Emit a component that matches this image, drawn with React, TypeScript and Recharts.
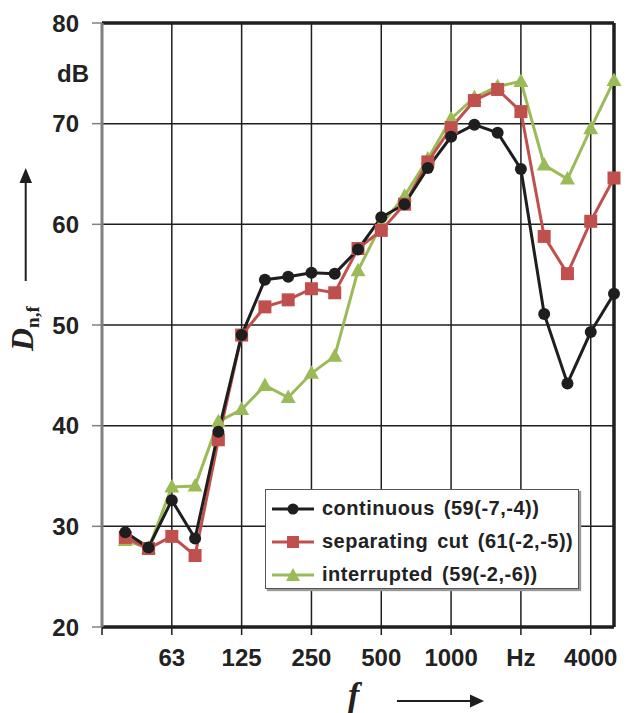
import { LineChart, Line, XAxis, YAxis, CartesianGrid, ReferenceLine } from 'recharts';

// third-octave bands, index 0 = 31.5 Hz (left edge of the plot)
const bands = ['40', '50', '63', '80', '100', '125', '160', '200', '250', '315', '400', '500', '630', '800', '1000', '1250', '1600', '2000', '2500', '3150', '4000', '5000'];
const continuous = [29.4, 27.9, 32.6, 28.8, 39.4, 49.0, 54.5, 54.8, 55.2, 55.1, 57.5, 60.7, 62.0, 65.6, 68.7, 69.9, 69.1, 65.5, 51.1, 44.2, 49.3, 53.1];
const separatingCut = [28.9, 27.8, 29.0, 27.1, 38.6, 49.0, 51.8, 52.5, 53.6, 53.2, 57.6, 59.4, 62.0, 66.2, 69.6, 72.3, 73.4, 71.2, 58.8, 55.1, 60.3, 64.6];
const interrupted = [28.6, 27.8, 33.9, 34.0, 40.4, 41.6, 44.0, 42.8, 45.2, 46.9, 55.4, 60.0, 62.8, 66.5, 70.5, 72.6, 73.7, 74.2, 65.9, 64.5, 69.5, 74.3];

const xTicks = [0, 3, 6, 9, 12, 15, 18, 21];
const xTickLabels = ['', '63', '125', '250', '500', '1000', 'Hz', '4000'];
const yTicks = [20, 30, 40, 50, 60, 70, 80];

const BLACK = '#1e1e1e';
const RED = '#c0504d';
const GREEN = '#9bbb59';
const SANS = '"Liberation Sans", Arial, sans-serif';
const SERIF = '"Liberation Serif", "Times New Roman", serif';

const data = bands.map((band, i) => ({
  idx: i + 1,
  band,
  continuous: continuous[i],
  separatingCut: separatingCut[i],
  interrupted: interrupted[i],
}));

function CircleDot(props: any) {
  const { cx, cy, index } = props;
  return <circle key={`c${index}`} cx={cx} cy={cy} r={6} fill={BLACK} />;
}

function SquareDot(props: any) {
  const { cx, cy, index } = props;
  return <rect key={`s${index}`} x={cx - 6.5} y={cy - 6.5} width={13} height={13} fill={RED} />;
}

function TriangleDot(props: any) {
  const { cx, cy, index } = props;
  return (
    <polygon
      key={`t${index}`}
      points={`${cx},${cy - 8} ${cx - 7.5},${cy + 5.5} ${cx + 7.5},${cy + 5.5}`}
      fill={GREEN}
    />
  );
}

function LegendRow({ color, marker, text }: { color: string; marker: string; text: string }) {
  return (
    <div style={{ display: 'flex', alignItems: 'center', height: 33 }}>
      <svg width={46} height={16} style={{ marginRight: 6 }}>
        <line x1={2} y1={8} x2={44} y2={8} stroke={color} strokeWidth={3} />
        {marker === 'circle' && <circle cx={23} cy={8} r={5.5} fill={color} />}
        {marker === 'square' && <rect x={17} y={2} width={12} height={12} fill={color} />}
        {marker === 'triangle' && <polygon points="23,1 16,14 30,14" fill={color} />}
      </svg>
      <span style={{ fontFamily: SANS, fontWeight: 'bold', fontSize: 20, letterSpacing: 0.5, wordSpacing: 3, color: '#222' }}>
        {text}
      </span>
    </div>
  );
}

export default function App() {
  return (
    <div style={{ position: 'absolute', left: 0, top: 0, width: 629, height: 713, background: '#fff' }}>
      <LineChart width={629} height={713} data={data} margin={{ top: 23, right: 15, bottom: 36, left: 22 }}>
        <CartesianGrid stroke={BLACK} strokeWidth={1.5} />
        <XAxis
          type="number"
          dataKey="idx"
          domain={[0, 22]}
          ticks={xTicks}
          tickFormatter={(v: number) => xTickLabels[xTicks.indexOf(v)]}
          interval={0}
          height={50}
          tickSize={8}
          tickMargin={14}
          axisLine={{ stroke: BLACK, strokeWidth: 3.5 }}
          tickLine={{ stroke: BLACK, strokeWidth: 1.5 }}
          tick={{ fontFamily: SANS, fontWeight: 'bold', fontSize: 24, fill: '#222' }}
        />
        <YAxis
          type="number"
          domain={[20, 80]}
          ticks={yTicks}
          interval={0}
          width={80}
          tickSize={10}
          tickMargin={13}
          axisLine={{ stroke: '#808080', strokeWidth: 3 }}
          tickLine={{ stroke: '#808080', strokeWidth: 1.5 }}
          tick={{ fontFamily: SANS, fontWeight: 'bold', fontSize: 24, fill: '#222' }}
        />
        <ReferenceLine y={80} stroke={BLACK} strokeWidth={3.5} />
        <ReferenceLine x={22} stroke={BLACK} strokeWidth={3.5} />
        <Line dataKey="interrupted" stroke={GREEN} strokeWidth={3} dot={TriangleDot} isAnimationActive={false} />
        <Line dataKey="separatingCut" stroke={RED} strokeWidth={3} dot={SquareDot} isAnimationActive={false} />
        <Line dataKey="continuous" stroke={BLACK} strokeWidth={3} dot={CircleDot} isAnimationActive={false} />
      </LineChart>

      <svg width={629} height={713} style={{ position: 'absolute', left: 0, top: 0, pointerEvents: 'none' }}>
        <text x={57} y={82} fontFamily={SANS} fontWeight="bold" fontSize={24} fill="#222">dB</text>
        {/* y axis title with arrow */}
        <line x1={25.7} y1={281} x2={25.7} y2={180} stroke={BLACK} strokeWidth={2} />
        <polygon points="19.5,183 32,183 25.7,168" fill={BLACK} />
        <text transform="translate(33,351) rotate(-90)" fontFamily={SERIF} fontStyle="italic" fontWeight="bold" fontSize={32} fill="#222">
          D<tspan fontSize={19} dy={6} fontStyle="normal">n,f</tspan>
        </text>
        {/* x axis title with arrow */}
        <text x={348} y={706} fontFamily={SERIF} fontStyle="italic" fontWeight="bold" fontSize={34} fill="#222">f</text>
        <line x1={397} y1={701} x2={471} y2={701} stroke={BLACK} strokeWidth={2} />
        <polygon points="470,694.5 470,707.5 484,701" fill={BLACK} />
      </svg>

      <div
        style={{
          position: 'absolute',
          left: 265,
          top: 489,
          width: 314,
          height: 100,
          background: '#fff',
          border: '1px solid #555',
          boxShadow: '2px 2px 1px #999',
          padding: '2px 0 0 4px',
          boxSizing: 'border-box',
        }}
      >
        <LegendRow color={BLACK} marker="circle" text="continuous (59(-7,-4))" />
        <LegendRow color={RED} marker="square" text="separating cut (61(-2,-5))" />
        <LegendRow color={GREEN} marker="triangle" text="interrupted (59(-2,-6))" />
      </div>
    </div>
  );
}
